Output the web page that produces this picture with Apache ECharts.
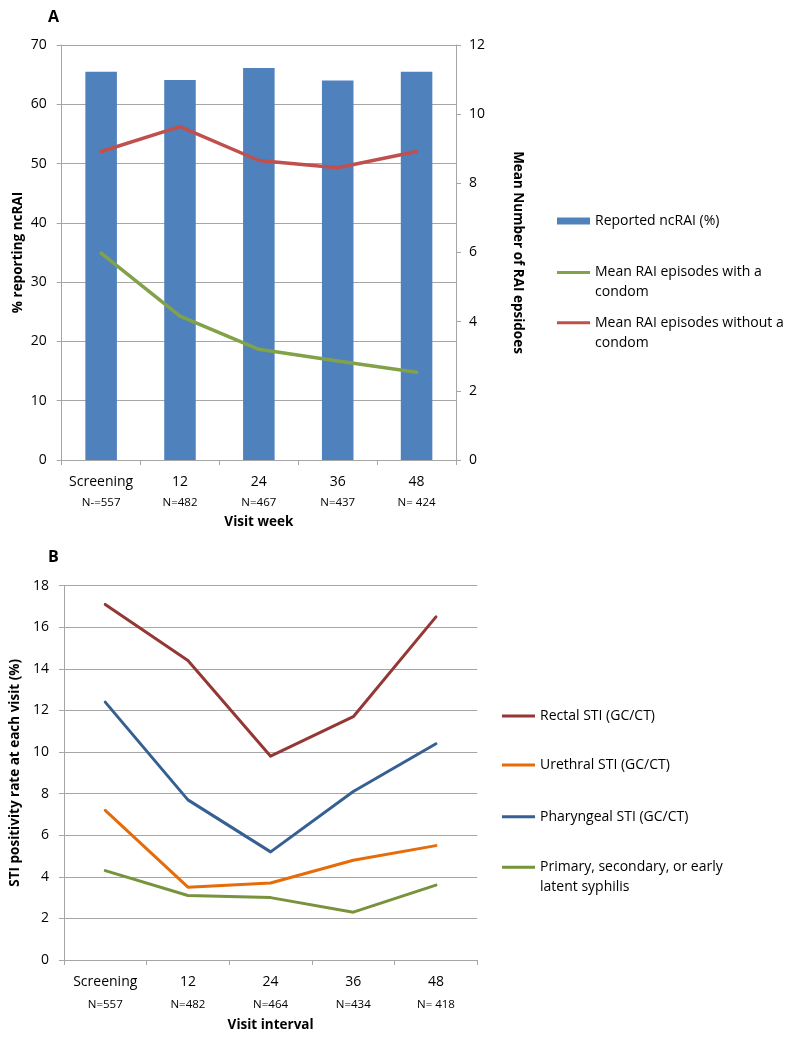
<!DOCTYPE html>
<html><head><meta charset="utf-8">
<script src="https://cdn.jsdelivr.net/npm/echarts@6/dist/echarts.min.js"></script>
<style>html,body{margin:0;padding:0;background:#fff}#c{width:800px;height:1043px}</style>
</head><body><div id="c"></div>
<script>
// ---------- Panel A data ----------
const visitsA = ['Screening', '12', '24', '36', '48'];
const nLabelsA = ['N-=557', 'N=482', 'N=467', 'N=437', 'N= 424'];
const ncRAIPct = [65.5, 64.1, 66.1, 64.0, 65.5];
const rai_withCondom = [5.98, 4.16, 3.20, 2.86, 2.54];
const rai_withoutCondom = [8.92, 9.64, 8.66, 8.45, 8.92];
// ---------- Panel B data ----------
const visitsB = ['Screening', '12', '24', '36', '48'];
const nLabelsB = ['N=557', 'N=482', 'N=464', 'N=434', 'N= 418'];
const rectalSTI = [17.1, 14.4, 9.8, 11.7, 16.5];
const urethralSTI = [7.2, 3.5, 3.7, 4.8, 5.5];
const pharyngealSTI = [12.4, 7.7, 5.2, 8.1, 10.4];
const syphilis = [4.3, 3.1, 3.0, 2.3, 3.6];

const FONT = '"Open Sans", "Liberation Sans", sans-serif';
const GRID_C = '#A6A6A6';
const TXT = '#000';

const names = {
  bar: 'Reported ncRAI (%)',
  withC: 'Mean RAI episodes with a condom',
  withoutC: 'Mean RAI episodes without a condom',
  rect: 'Rectal STI (GC/CT)',
  ure: 'Urethral STI (GC/CT)',
  pha: 'Pharyngeal STI (GC/CT)',
  syp: 'Primary, secondary, or early latent syphilis'
};
const wrapped = {};
wrapped[names.withC] = 'Mean RAI episodes with a\ncondom';
wrapped[names.withoutC] = 'Mean RAI episodes without a\ncondom';
wrapped[names.syp] = 'Primary, secondary, or early\nlatent syphilis';

const iconLine1 = 'path://M0,0L33,0L33,3L0,3Z';
const iconLine2 = 'path://M0,0L0.01,0L0.01,0.01L0,0.01Z M0,8.5L33,8.5L33,11.5L0,11.5Z M0,39.99L0.01,39.99L0.01,40L0,40Z';

function legendItem(name, left, top, kind) {
  const o = {
    data: [name], left: left, top: top, orient: 'vertical', padding: 0,
    itemGap: 0, itemWidth: 33, selectedMode: false,
    itemStyle: { borderWidth: 0 },
    textStyle: { fontSize: 14, lineHeight: 20, color: TXT, fontFamily: FONT },
    formatter: n => wrapped[n] || n
  };
  if (kind === 'bar') { o.icon = 'rect'; o.itemHeight = 7; }
  else if (kind === 'line2') { o.icon = iconLine2; o.itemHeight = 40; }
  else { o.icon = iconLine1; o.itemHeight = 3; }
  return o;
}

function catLabel(nArr, lh2) {
  return {
    interval: 0, margin: 13, color: TXT, fontFamily: FONT,
    formatter: (v, i) => '{a|' + v + '}\n{b|' + nArr[i] + '}',
    rich: {
      a: { fontSize: 14, lineHeight: 18, color: TXT, fontFamily: FONT },
      b: { fontSize: 11.5, lineHeight: lh2, color: TXT, fontFamily: FONT }
    }
  };
}
const axisLineS = { show: true, lineStyle: { color: GRID_C, width: 1 } };
const tickS = { show: true, length: 5, lineStyle: { color: GRID_C } };
const nameS = { fontSize: 13.5, fontWeight: 'bold', color: TXT, fontFamily: FONT };
const valLabel = { fontSize: 14, color: TXT, fontFamily: FONT };

const chart = echarts.init(document.getElementById('c'), null, { renderer: 'canvas' });
chart.setOption({
  backgroundColor: '#fff',
  animation: false,
  title: [
    { text: 'A', left: 43, top: 4, textStyle: { fontSize: 16, fontWeight: 'bold', color: TXT, fontFamily: FONT } },
    { text: 'B', left: 43, top: 544, textStyle: { fontSize: 16, fontWeight: 'bold', color: TXT, fontFamily: FONT } }
  ],
  grid: [
    { left: 61.7, right: 344, top: 45, height: 415 },
    { left: 63.3, right: 322.7, top: 585.7, height: 374.3 }
  ],
  legend: [
    legendItem(names.bar, 557, 211, 'bar'),
    legendItem(names.withC, 557, 262.5, 'line2'),
    legendItem(names.withoutC, 557, 312.7, 'line2'),
    legendItem(names.rect, 502, 706, 'line1'),
    legendItem(names.ure, 502, 755, 'line1'),
    legendItem(names.pha, 502, 806.7, 'line1'),
    legendItem(names.syp, 502, 857.3, 'line2')
  ],
  xAxis: [
    {
      type: 'category', gridIndex: 0, data: visitsA, boundaryGap: true,
      axisLine: axisLineS, axisTick: tickS, axisLabel: catLabel(nLabelsA, 24),
      name: 'Visit week', nameLocation: 'middle', nameGap: 55, nameTextStyle: nameS
    },
    {
      type: 'category', gridIndex: 1, data: visitsB, boundaryGap: true,
      axisLine: axisLineS, axisTick: tickS, axisLabel: catLabel(nLabelsB, 28),
      name: 'Visit interval', nameLocation: 'middle', nameGap: 58, nameTextStyle: nameS
    }
  ],
  yAxis: [
    {
      type: 'value', gridIndex: 0, min: 0, max: 70, interval: 10,
      axisLine: axisLineS, axisTick: tickS, axisLabel: Object.assign({ margin: 15 }, valLabel),
      splitLine: { show: true, lineStyle: { color: GRID_C } },
      name: '% reporting ncRAI', nameLocation: 'middle', nameRotate: 90, nameGap: 37, nameTextStyle: nameS
    },
    {
      type: 'value', gridIndex: 0, position: 'right', min: 0, max: 12, interval: 2,
      axisLine: axisLineS, axisTick: tickS, axisLabel: Object.assign({ margin: 13 }, valLabel),
      splitLine: { show: false },
      name: 'Mean Number of RAI epsidoes', nameLocation: 'middle', nameRotate: -90, nameGap: 55, nameTextStyle: nameS
    },
    {
      type: 'value', gridIndex: 1, min: 0, max: 18, interval: 2,
      axisLine: axisLineS, axisTick: tickS, axisLabel: Object.assign({ margin: 15 }, valLabel),
      splitLine: { show: true, lineStyle: { color: GRID_C } },
      name: 'STI positivity rate at each visit (%)', nameLocation: 'middle', nameRotate: 90, nameGap: 39, nameTextStyle: nameS
    }
  ],
  series: [
    { name: names.bar, type: 'bar', xAxisIndex: 0, yAxisIndex: 0, data: ncRAIPct, barWidth: '40%',
      itemStyle: { color: '#4F81BD' } },
    { name: names.withC, type: 'line', xAxisIndex: 0, yAxisIndex: 1, data: rai_withCondom, symbol: 'none',
      color: '#82A24A', lineStyle: { color: '#82A24A', width: 3.5, cap: 'round', join: 'round' } },
    { name: names.withoutC, type: 'line', xAxisIndex: 0, yAxisIndex: 1, data: rai_withoutCondom, symbol: 'none',
      color: '#C0504D', lineStyle: { color: '#C0504D', width: 3.5, cap: 'round', join: 'round' } },
    { name: names.rect, type: 'line', xAxisIndex: 1, yAxisIndex: 2, data: rectalSTI, symbol: 'none',
      color: '#953735', lineStyle: { color: '#953735', width: 3, cap: 'round', join: 'round' } },
    { name: names.ure, type: 'line', xAxisIndex: 1, yAxisIndex: 2, data: urethralSTI, symbol: 'none',
      color: '#E46C0A', lineStyle: { color: '#E46C0A', width: 3, cap: 'round', join: 'round' } },
    { name: names.pha, type: 'line', xAxisIndex: 1, yAxisIndex: 2, data: pharyngealSTI, symbol: 'none',
      color: '#376092', lineStyle: { color: '#376092', width: 3, cap: 'round', join: 'round' } },
    { name: names.syp, type: 'line', xAxisIndex: 1, yAxisIndex: 2, data: syphilis, symbol: 'none',
      color: '#77933C', lineStyle: { color: '#77933C', width: 3, cap: 'round', join: 'round' } }
  ]
});
</script>
</body></html>
